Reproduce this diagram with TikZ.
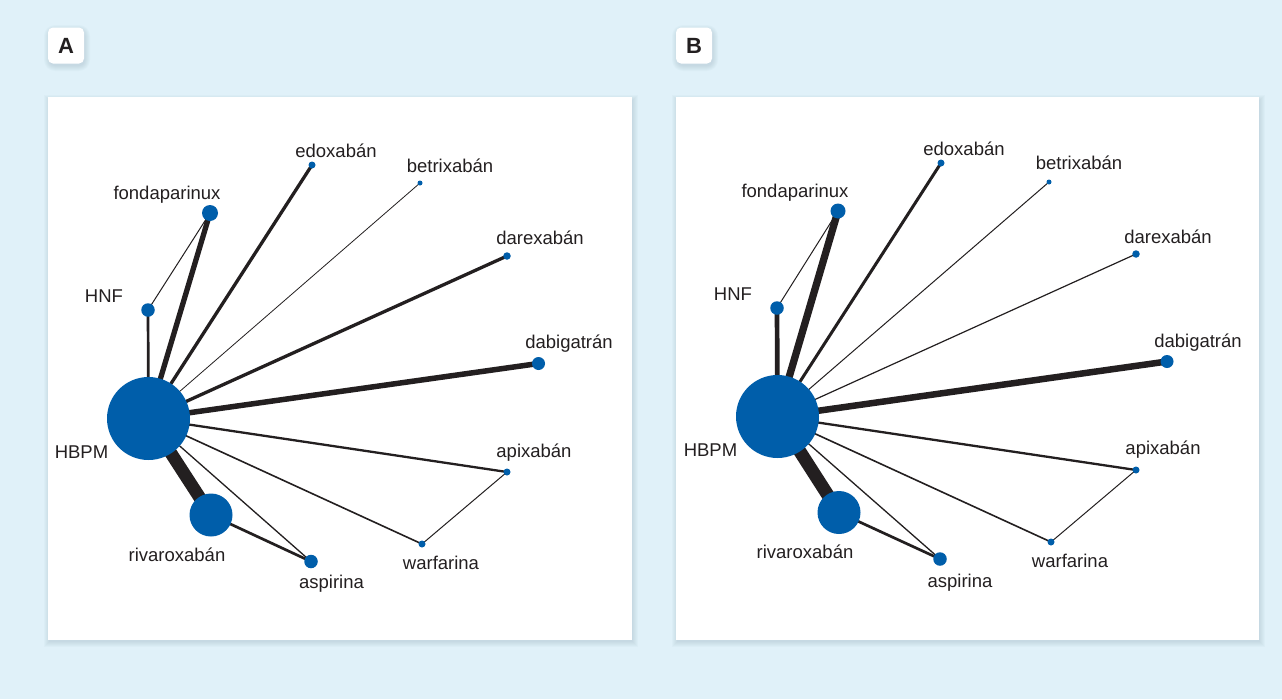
\documentclass[tikz,border=0pt]{standalone}
\usepackage{fontspec}
\setmainfont{Liberation Sans}
\definecolor{bgblue}{RGB}{224,241,249}
\definecolor{nodeblue}{RGB}{0,94,170}
\definecolor{inkblack}{RGB}{35,31,32}
\definecolor{shadowcol}{RGB}{90,120,140}
\pgfdeclarelayer{background}\pgfdeclarelayer{edges}
\pgfsetlayers{background,edges,main}

\begin{document}
\begin{tikzpicture}[x=1pt,y=-1pt,font=\fontsize{18.5}{22}\selectfont,
 drug/.style={circle,fill=nodeblue,inner sep=0pt,minimum size=#1},
 lbl/.style={anchor=base,text=inkblack,inner sep=0pt},
 link/.style={draw=inkblack,line width=#1},
 tag/.style={fill=white,rounded corners=5pt,minimum size=36pt,inner sep=0pt,text=inkblack,font=\bfseries\fontsize{22}{22}\selectfont}]
\useasboundingbox(0,0)rectangle(1282,699);
\begin{pgfonlayer}{background}
\fill[bgblue](0,0)rectangle(1282,699);
\foreach \d in {1,...,6}{
 \fill[shadowcol,opacity=.03](48-\d+2,97-\d+4)rectangle(632+\d,640+\d+1);
 \fill[shadowcol,opacity=.03](676-\d+2,97-\d+4)rectangle(1259+\d,640+\d+1);
 \fill[shadowcol,opacity=.03,rounded corners=5+\d](48-\d+2,27-\d+4)rectangle(84+\d,64+\d+1);
 \fill[shadowcol,opacity=.03,rounded corners=5+\d](676-\d+2,27-\d+4)rectangle(712+\d,64+\d+1);}
\fill[white](48,97)rectangle(632,640);\fill[white](676,97)rectangle(1259,640);
\end{pgfonlayer}
\node[tag](tagA)at(66,45.5){A};\node[tag](tagB)at(694,45.5){B};
% A
\node[drug=83](hbpmA)at(148.5,418.5){};\node[drug=16](fondA)at(210,213){};\node[drug=13.5](hnfA)at(148,310){};
\node[drug=7](edoxA)at(312,165){};\node[drug=5](betrA)at(420,183){};\node[drug=7.5](darxA)at(507,256){};
\node[drug=13](dabiA)at(538.5,363.5){};\node[drug=7](apixA)at(507,472){};\node[drug=7](warfA)at(422,544){};
\node[drug=43](rivaA)at(211,515){};\node[drug=13.5](aspiA)at(311,561.5){};
\begin{pgfonlayer}{edges}
\draw[link=12.7](hbpmA.center)--(rivaA.center);\draw[link=5.3](hbpmA.center)--(fondA.center);\draw[link=2.7](hbpmA.center)--(hnfA.center);
\draw[link=1](hnfA.center)--(fondA.center);\draw[link=3.3](hbpmA.center)--(edoxA.center);\draw[link=.8](hbpmA.center)--(betrA.center);
\draw[link=3.3](hbpmA.center)--(darxA.center);\draw[link=5.5](hbpmA.center)--(dabiA.center);\draw[link=2.3](hbpmA.center)--(apixA.center);
\draw[link=1.6](hbpmA.center)--(warfA.center);\draw[link=1.3](hbpmA.center)--(aspiA.center);\draw[link=2.7](rivaA.center)--(aspiA.center);
\draw[link=1](apixA.center)--(warfA.center);
\end{pgfonlayer}
\node[lbl](fondAl)at(167,199){fondaparinux};\node[lbl](hnfAl)at(104,302){HNF};\node[lbl](hbpmAl)at(81.5,458){HBPM};
\node[lbl](edoxAl)at(336,157){edoxabán};\node[lbl](betrAl)at(450,172){betrixabán};\node[lbl](darxAl)at(540,244){darexabán};
\node[lbl](dabiAl)at(569,348){dabigatrán};\node[lbl](apixAl)at(534,457){apixabán};\node[lbl](warfAl)at(441,569){warfarina};
\node[lbl](rivaAl)at(177,561){rivaroxabán};\node[lbl](aspiAl)at(331.5,588){aspirina};
% B
\node[drug=83](hbpmB)at(777.5,416.5){};\node[drug=15](fondB)at(838,211){};\node[drug=13.5](hnfB)at(777,308){};
\node[drug=7](edoxB)at(941,163){};\node[drug=5](betrB)at(1049,182){};\node[drug=7.5](darxB)at(1136,254){};
\node[drug=13](dabiB)at(1167,361.5){};\node[drug=7](apixB)at(1136,470){};\node[drug=7](warfB)at(1051,542){};
\node[drug=43](rivaB)at(839,512.5){};\node[drug=13.5](aspiB)at(940,559){};
\begin{pgfonlayer}{edges}
\draw[link=13](hbpmB.center)--(rivaB.center);\draw[link=7.3](hbpmB.center)--(fondB.center);\draw[link=4.7](hbpmB.center)--(hnfB.center);
\draw[link=1](hnfB.center)--(fondB.center);\draw[link=3](hbpmB.center)--(edoxB.center);\draw[link=1](hbpmB.center)--(betrB.center);
\draw[link=1.2](hbpmB.center)--(darxB.center);\draw[link=6.5](hbpmB.center)--(dabiB.center);\draw[link=2.3](hbpmB.center)--(apixB.center);
\draw[link=1.6](hbpmB.center)--(warfB.center);\draw[link=1.3](hbpmB.center)--(aspiB.center);\draw[link=2.7](rivaB.center)--(aspiB.center);
\draw[link=1](apixB.center)--(warfB.center);
\end{pgfonlayer}
\node[lbl](fondBl)at(795,197){fondaparinux};\node[lbl](hnfBl)at(733,300){HNF};\node[lbl](hbpmBl)at(710.5,456){HBPM};
\node[lbl](edoxBl)at(964,155){edoxabán};\node[lbl](betrBl)at(1079,169){betrixabán};\node[lbl](darxBl)at(1168,243){darexabán};
\node[lbl](dabiBl)at(1198,347){dabigatrán};\node[lbl](apixBl)at(1163,454){apixabán};\node[lbl](warfBl)at(1070,567){warfarina};
\node[lbl](rivaBl)at(805,558){rivaroxabán};\node[lbl](aspiBl)at(960,587){aspirina};
\end{tikzpicture}
\end{document}
